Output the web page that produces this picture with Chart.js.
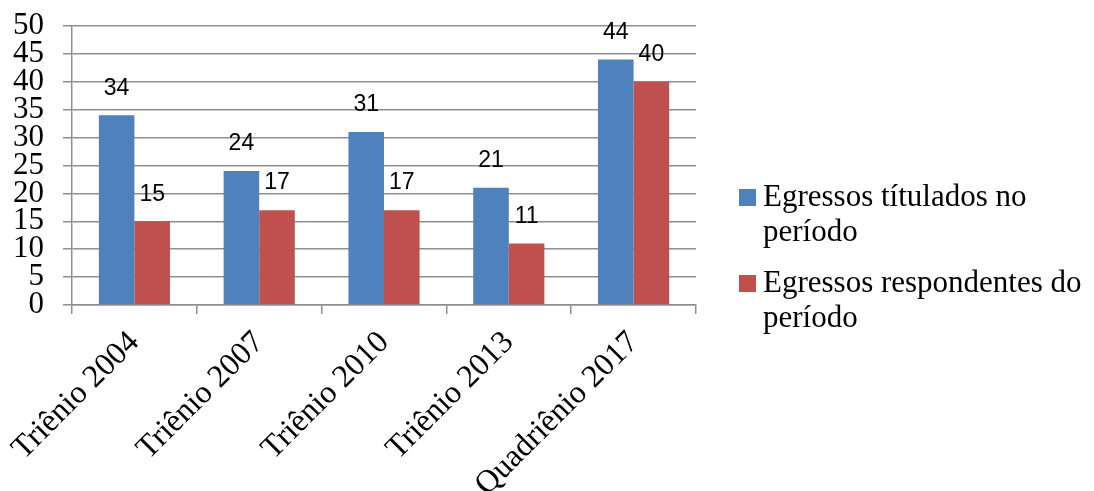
<!DOCTYPE html>
<html>
<head>
<meta charset="utf-8">
<script src="https://cdn.jsdelivr.net/npm/chart.js@4.4.1/dist/chart.umd.min.js"></script>
<style>
  html, body { margin: 0; padding: 0; background: #fff; }
  #wrap { width: 1094px; height: 491px; }
</style>
</head>
<body>
<div id="wrap"><canvas id="egressos-chart" width="1094" height="491"></canvas></div>
<script>
// Egressos por período de avaliação
const periodos = ['Triênio 2004', 'Triênio 2007', 'Triênio 2010', 'Triênio 2013', 'Quadriênio 2017'];
const titulados = [34, 24, 31, 21, 44];
const respondentes = [15, 17, 17, 11, 40];
const serieNomes = ['Egressos títulados no período', 'Egressos respondentes do período'];
const serieCores = ['#4F81BD', '#C0504D'];

const serif = "'Liberation Serif', 'Times New Roman', serif";
const gridColor = '#8f8f8f';

// valores acima das barras
const rotulosValores = {
    id: 'rotulosValores',
    afterDatasetsDraw(chart) {
        const ctx = chart.ctx;
        ctx.save();
        ctx.font = "23px 'Liberation Sans', Arial, sans-serif";
        ctx.fillStyle = '#000';
        ctx.textAlign = 'center';
        ctx.textBaseline = 'middle';
        chart.data.datasets.forEach(function(ds, i) {
            chart.getDatasetMeta(i).data.forEach(function(bar, j) {
                ctx.fillText(String(ds.data[j]), bar.x, bar.y - 27);
            });
        });
        ctx.restore();
    }
};

// legenda à direita, com quebra de linha
const legendaDireita = {
    id: 'legendaDireita',
    afterDraw(chart) {
        const ctx = chart.ctx;
        const x0 = chart.chartArea.right + 43;
        const textX = x0 + 24;
        const maxW = chart.width - textX - 2;
        let baseline = 206;
        ctx.save();
        ctx.font = '31px ' + serif;
        ctx.textBaseline = 'alphabetic';
        ctx.textAlign = 'left';
        chart.data.datasets.forEach(function(ds) {
            const palavras = ds.label.split(' ');
            const linhas = [];
            let atual = '';
            palavras.forEach(function(p) {
                const teste = atual ? atual + ' ' + p : p;
                if (ctx.measureText(teste).width > maxW && atual) {
                    linhas.push(atual);
                    atual = p;
                } else {
                    atual = teste;
                }
            });
            linhas.push(atual);
            ctx.fillStyle = ds.backgroundColor;
            ctx.fillRect(x0, baseline - 17, 17, 17);
            ctx.fillStyle = '#000';
            linhas.forEach(function(l, k) {
                ctx.fillText(l, textX, baseline + k * 34.5);
            });
            baseline += 86;
        });
        ctx.restore();
    }
};

const chart = new Chart(document.getElementById('egressos-chart'), {
    type: 'bar',
    data: {
        labels: periodos,
        datasets: [
            {
                label: serieNomes[0],
                data: titulados,
                backgroundColor: serieCores[0],
                categoryPercentage: 0.57,
                barPercentage: 1
            },
            {
                label: serieNomes[1],
                data: respondentes,
                backgroundColor: serieCores[1],
                categoryPercentage: 0.57,
                barPercentage: 1
            }
        ]
    },
    options: {
        responsive: false,
        animation: false,
        layout: {
            padding: { left: 0, right: 398, top: 26, bottom: 0 }
        },
        plugins: {
            legend: { display: false },
            tooltip: { enabled: false }
        },
        scales: {
            x: {
                grid: {
                    display: true,
                    drawOnChartArea: false,
                    drawTicks: true,
                    tickLength: 9,
                    color: gridColor,
                    lineWidth: 1.5
                },
                border: { color: gridColor, width: 1.5 },
                ticks: {
                    color: '#000',
                    font: { family: serif, size: 32 },
                    minRotation: 45,
                    maxRotation: 45,
                    autoSkip: false,
                    padding: 10,
                    labelOffset: 0
                },
                afterFit: function(scale) {
                    scale.height = 186;
                    scale.paddingLeft = 0;
                    scale.paddingRight = 0;
                }
            },
            y: {
                min: 0,
                max: 50,
                grid: {
                    color: gridColor,
                    lineWidth: 1.5,
                    tickLength: 9
                },
                border: { color: gridColor, width: 1.5 },
                ticks: {
                    stepSize: 5,
                    autoSkip: false,
                    color: '#000',
                    padding: 19,
                    font: { family: serif, size: 31, lineHeight: 1 }
                },
                afterFit: function(scale) {
                    scale.width = 72;
                    scale.paddingTop = 0;
                    scale.paddingBottom = 0;
                }
            }
        }
    },
    plugins: [rotulosValores, legendaDireita]
});
</script>
</body>
</html>
